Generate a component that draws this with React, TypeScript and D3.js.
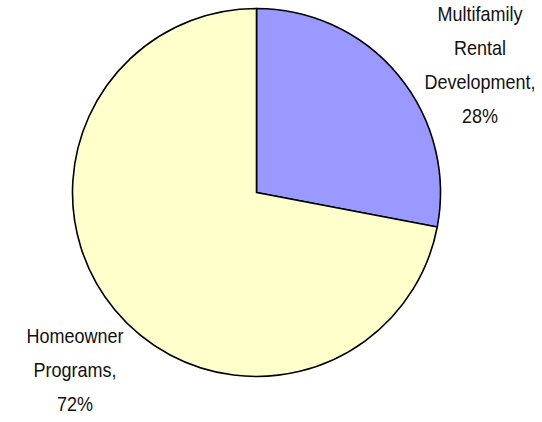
import React from "react";
import * as d3 from "d3";

const categories = ["Multifamily Rental Development", "Homeowner Programs"];
const values = [28, 72];
const labelLines = [
  ["Multifamily", "Rental", "Development,", "28%"],
  ["Homeowner", "Programs,", "72%"],
];
const colors = ["#9999FF", "#FFFFCC"];

export default function App() {
  const W = 542, H = 422;
  const cx = 256.5, cy = 192.5, r = 184;
  const pie = d3.pie<number>().sort(null).value((d) => d)(values);
  const arc = d3.arc<d3.PieArcDatum<number>>().innerRadius(0).outerRadius(r);
  const labelPos = [
    { x: 480, y: 20.7 },
    { x: 75, y: 342.7 },
  ];
  const lh = 34.2;
  return (
    <svg width={W} height={H} style={{ position: "absolute", left: 0, top: 0, background: "#fff" }}>
      <g transform={`translate(${cx},${cy})`}>
        {pie.map((p, i) => (
          <path key={categories[i]} d={arc(p) || ""} fill={colors[i]} stroke="#000" strokeWidth={1.6} strokeLinejoin="round" />
        ))}
      </g>
      {labelLines.map((lines, i) => (
        <g key={i} transform={`translate(${labelPos[i].x},0) scale(0.9,1)`}>
          <text fontFamily="'Liberation Sans', Arial, sans-serif" fontSize={20} fill="#111" textAnchor="middle">
            {lines.map((t, j) => (
              <tspan key={j} x={0} y={labelPos[i].y + j * lh}>{t}</tspan>
            ))}
          </text>
        </g>
      ))}
    </svg>
  );
}
